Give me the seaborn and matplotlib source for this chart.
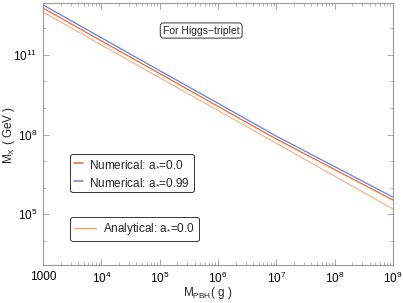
import numpy as np
import pandas as pd
import matplotlib
matplotlib.use("Agg")
import matplotlib.pyplot as plt
import matplotlib.ticker as mticker
from matplotlib.lines import Line2D
import seaborn as sns

# ---- data (log10 values) ----
m_pbh_log = [3, 4, 5, 6, 7, 8, 9]
num_a0_log = [12.77, 11.53, 10.30, 9.06, 7.83, 6.68, 5.53]
num_a099_log = [12.89, 11.65, 10.41, 9.18, 7.94, 6.79, 5.64]
ana_a0_log = [12.62, 11.38, 10.14, 8.91, 7.67, 6.43, 5.19]

df = pd.DataFrame({
    "mpbh": np.power(10.0, m_pbh_log),
    "num0": np.power(10.0, num_a0_log),
    "num99": np.power(10.0, num_a099_log),
    "ana0": np.power(10.0, ana_a0_log),
})

ORANGE = "#EE6A2C"
BLUE = "#6B80D6"
LIGHT = "#F4A27C"
FRAME = "#9a9a9a"

sns.set_style("ticks")
plt.rcParams["font.family"] = ["Liberation Sans", "DejaVu Sans"]
plt.rcParams["mathtext.fontset"] = "custom"
plt.rcParams["mathtext.rm"] = "Liberation Sans"
plt.rcParams["mathtext.it"] = "Liberation Sans:italic"
plt.rcParams["mathtext.default"] = "rm"

fig = plt.figure(figsize=(4.03, 3.03), dpi=100)
ax = fig.add_axes([43 / 403, 1 - 265 / 303, 350 / 403, 262 / 303])

sns.lineplot(data=df, x="mpbh", y="num99", color=BLUE, lw=0.9, ax=ax, legend=False)
sns.lineplot(data=df, x="mpbh", y="num0", color=ORANGE, lw=0.9, ax=ax, legend=False)
sns.lineplot(data=df, x="mpbh", y="ana0", color=LIGHT, lw=0.7, ax=ax, legend=False)

ax.set_xscale("log")
ax.set_yscale("log")
ax.set_xlim(1e3, 1e9)
ax.set_ylim(10 ** 3.08, 10 ** 12.96)

# ---- ticks, Mathematica style ----
def xfmt(v, pos):
    e = int(round(np.log10(v)))
    return "1000" if e == 3 else rf"$10^{{{e}}}$"

def yfmt(v, pos):
    e = int(round(np.log10(v)))
    return rf"$10^{{{e}}}$"

ax.xaxis.set_major_locator(mticker.FixedLocator([10.0 ** k for k in m_pbh_log]))
ax.xaxis.set_major_formatter(mticker.FuncFormatter(xfmt))
ax.xaxis.set_minor_locator(mticker.LogLocator(base=10, subs=np.arange(2, 10), numticks=20))
ax.xaxis.set_minor_formatter(mticker.NullFormatter())

ax.yaxis.set_major_locator(mticker.FixedLocator([1e5, 1e8, 1e11]))
ax.yaxis.set_major_formatter(mticker.FuncFormatter(yfmt))
ax.yaxis.set_minor_locator(mticker.FixedLocator([10.0 ** k for k in range(4, 13)]))
ax.yaxis.set_minor_formatter(mticker.NullFormatter())

ax.tick_params(which="both", direction="in", top=True, right=True,
               color=FRAME, labelsize=8.5, labelcolor="black", pad=4)
ax.tick_params(which="major", length=4, width=0.6)
ax.tick_params(which="minor", length=2, width=0.5)
for s in ax.spines.values():
    s.set_color(FRAME)
    s.set_linewidth(0.8)

ax.set_xlabel(r"M$_{\mathrm{PBH}}$( g )", fontsize=8.5, va="center")
ax.set_ylabel(r"M$_{\mathrm{X}}$ ( GeV )", fontsize=8.5, va="center")
ax.xaxis.set_label_coords(165 / 350, -28 / 262)
ax.yaxis.set_label_coords(-34 / 350, 130 / 262)

# ---- annotation box ----
ax.text(0.452, 0.895, "For Higgs\u2212triplet", transform=ax.transAxes,
        ha="center", va="center", fontsize=7.5,
        bbox=dict(boxstyle="round,pad=0.25,rounding_size=0.3",
                  fc="white", ec="#333333", lw=0.7))

# ---- legends ----
h1 = [Line2D([], [], color=ORANGE, lw=1.1), Line2D([], [], color=BLUE, lw=1.1)]
leg1 = ax.legend(h1, [r"Numerical: a$_{*}$=0.0", r"Numerical: a$_{*}$=0.99"],
                 loc="upper left", bbox_to_anchor=(0.078, 0.425), fontsize=8.5,
                 handlelength=0.7, handletextpad=0.5, borderpad=0.35,
                 borderaxespad=0, labelspacing=0.55, frameon=True,
                 fancybox=True, framealpha=1)
leg1.get_frame().set_edgecolor("#333333")
leg1.get_frame().set_linewidth(0.7)
ax.add_artist(leg1)

h2 = [Line2D([], [], color=LIGHT, lw=0.9)]
leg2 = ax.legend(h2, [r"Analytical: a$_{*}$=0.0"],
                 loc="upper left", bbox_to_anchor=(0.078, 0.183), fontsize=8.5,
                 handlelength=1.8, handletextpad=0.6, borderpad=0.35,
                 borderaxespad=0, frameon=True, fancybox=True, framealpha=1)
leg2.get_frame().set_edgecolor("#333333")
leg2.get_frame().set_linewidth(0.7)

fig.savefig("out.png", dpi=100)
